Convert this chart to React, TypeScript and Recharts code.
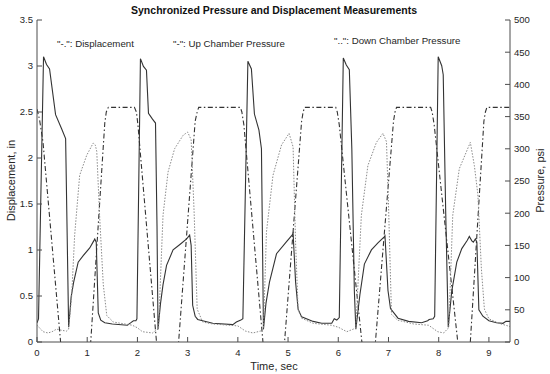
import React from "react";
import { LineChart, Line, XAxis, YAxis } from "recharts";

// time axis ticks and y ticks
const timeTicks = [0, 1, 2, 3, 4, 5, 6, 7, 8, 9];
const dispTicks = [0, 0.5, 1, 1.5, 2, 2.5, 3, 3.5];
const psiTicks = [0, 50, 100, 150, 200, 250, 300, 350, 400, 450, 500];

// displacement, in (left axis) - "-." line
const dispTime = [0, 0.05, 0.12, 0.47, 0.77, 1.07, 1.35, 1.38, 1.42, 1.94, 1.98, 2.01, 2.38, 2.6, 2.82, 3.15, 3.19, 3.22, 4.05, 4.08, 4.12, 4.5, 4.72, 4.93, 5.27, 5.3, 5.33, 5.95, 5.98, 6.02, 6.47, 6.6, 6.74, 7.1, 7.13, 7.16, 7.84, 7.87, 7.91, 8.38, 8.5, 8.63, 8.9, 8.93, 8.96, 9.42];
const dispIn = [2.53, 2.42, 2.17, 0, -0.4, 0, 2.38, 2.5, 2.55, 2.55, 2.5, 2.36, 0, -0.3, 0, 2.4, 2.5, 2.55, 2.55, 2.5, 2.36, 0, -0.3, 0, 2.4, 2.5, 2.55, 2.55, 2.5, 2.36, 0, -0.2, 0, 2.4, 2.5, 2.55, 2.55, 2.5, 2.36, 0, -0.2, 0, 2.4, 2.5, 2.55, 2.55];

// up chamber pressure, psi - "-" line
const upTime = [0, 0.03, 0.13, 0.19, 0.25, 0.37, 0.49, 0.57, 0.63, 0.68, 0.73, 0.82, 0.92, 1.05, 1.13, 1.15, 1.18, 1.22, 1.27, 1.35, 1.5, 1.8, 1.87, 1.92, 1.97, 1.99,
  2.06, 2.12, 2.18, 2.22, 2.3, 2.36, 2.39, 2.41, 2.46, 2.51, 2.58, 2.71, 2.84, 2.98, 3.04, 3.07, 3.1, 3.15, 3.2, 3.5, 3.9, 3.97, 4.06, 4.1,
  4.2, 4.27, 4.33, 4.42, 4.47, 4.51, 4.56, 4.63, 4.77, 4.97, 5.08, 5.1, 5.15, 5.2, 5.27, 5.5, 5.67, 5.87, 5.92, 5.97, 6.02,
  6.1, 6.16, 6.22, 6.27, 6.32, 6.35, 6.43, 6.52, 6.66, 6.79, 6.91, 6.93, 6.99, 7.04, 7.19, 7.4, 7.66, 7.78, 7.81, 7.89, 7.92,
  7.99, 8.06, 8.09, 8.14, 8.19, 8.26, 8.36, 8.46, 8.57, 8.61, 8.66, 8.69, 8.73, 8.76, 8.8, 8.88, 9.0, 9.15, 9.28, 9.34, 9.42];
const upPsi = [30, 36, 443, 431, 424, 353, 331, 316, 23, 70, 93, 124, 134, 146, 157, 160, 155, 45, 34, 30, 28, 26, 30, 33, 33, 36,
  440, 428, 422, 355, 346, 340, 180, 20, 60, 89, 119, 143, 151, 160, 166, 150, 57, 40, 35, 29, 27, 31, 34, 36,
  436, 424, 354, 329, 300, 20, 60, 93, 137, 156, 166, 169, 93, 51, 39, 32, 29, 29, 36, 34, 38,
  441, 430, 423, 300, 80, 20, 73, 121, 143, 154, 163, 165, 80, 52, 37, 32, 30, 33, 35, 36, 40,
  443, 429, 415, 200, 23, 79, 124, 145, 158, 164, 157, 155, 160, 155, 50, 40, 33, 30, 29, 32, 32];

// down chamber pressure, psi - ":" line
const downTime = [0, 0.05, 0.12, 0.22, 0.3, 0.39, 0.5, 0.59, 0.63, 0.69, 0.75, 0.85, 0.99, 1.12, 1.16, 1.19, 1.25, 1.32, 1.39, 1.52, 1.9, 2.0, 2.1, 2.3, 2.38,
  2.42, 2.46, 2.51, 2.61, 2.74, 2.91, 3.0, 3.07, 3.13, 3.17, 3.19, 3.3, 3.5, 4.0, 4.15, 4.3, 4.45,
  4.51, 4.57, 4.7, 4.87, 5.02, 5.1, 5.15, 5.2, 5.27, 5.5, 5.87, 6.0, 6.17, 6.3,
  6.35, 6.46, 6.59, 6.76, 6.89, 6.96, 7.0, 7.06, 7.18, 7.5, 7.8, 7.98, 8.1, 8.17,
  8.2, 8.28, 8.41, 8.63, 8.71, 8.78, 8.85, 8.91, 9.0, 9.2, 9.42];
const downPsi = [26, 22, 16, 14, 16, 20, 18, 17, 20, 71, 166, 259, 290, 309, 306, 296, 191, 89, 41, 31, 26, 22, 16, 14, 19,
  20, 100, 197, 264, 300, 321, 326, 314, 200, 100, 51, 31, 28, 25, 17, 14, 17,
  20, 171, 259, 306, 324, 303, 154, 50, 37, 29, 26, 23, 16, 20,
  22, 197, 274, 310, 324, 311, 214, 43, 34, 28, 26, 16, 14, 20,
  22, 197, 269, 310, 274, 229, 114, 51, 36, 29, 24];

const dispData = dispTime.map((t, i) => ({ t, v: dispIn[i] }));
const upData = upTime.map((t, i) => ({ t, v: upPsi[i] }));
const downData = downTime.map((t, i) => ({ t, v: downPsi[i] }));

const FONT = '"Liberation Sans", Arial, Helvetica, sans-serif';
const AXIS = "#4d4d4d";
const TXT = "#262626";
const tickStyle = { fontSize: 9.5, fill: TXT, fontFamily: FONT };

export default function App() {
  return (
    <div style={{ position: "absolute", left: 0, top: 0, width: 550, height: 374, background: "#fff" }}>
      <LineChart width={550} height={374} margin={{ top: 20, right: 0, bottom: 0, left: 0 }}>
        <XAxis xAxisId="b" dataKey="t" type="number" domain={[0, 9.42]} ticks={timeTicks} allowDataOverflow
          height={32} tickSize={-5} tickMargin={12} stroke={AXIS} tick={tickStyle} />
        <XAxis xAxisId="top" dataKey="t" orientation="top" type="number" domain={[0, 9.42]} ticks={timeTicks}
          allowDataOverflow height={0} tickSize={-5} tickFormatter={() => ""} stroke={AXIS} />
        <YAxis yAxisId="left" type="number" domain={[0, 3.5]} ticks={dispTicks} allowDataOverflow
          width={37} tickSize={-5} tickMargin={9} stroke={AXIS} tick={tickStyle} />
        <YAxis yAxisId="right" orientation="right" type="number" domain={[0, 500]} ticks={psiTicks}
          allowDataOverflow width={40} tickSize={-5} tickMargin={9} stroke={AXIS} tick={tickStyle} />
        <Line data={dispData} xAxisId="b" yAxisId="left" dataKey="v" type="linear" dot={false}
          stroke="#333" strokeWidth={1.1} strokeDasharray="5 2.5 1.5 2.5" isAnimationActive={false} />
        <Line data={upData} xAxisId="b" yAxisId="right" dataKey="v" type="linear" dot={false}
          stroke="#333" strokeWidth={1.1} isAnimationActive={false} />
        <Line data={downData} xAxisId="b" yAxisId="right" dataKey="v" type="linear" dot={false}
          stroke="#8a8a8a" strokeWidth={1} strokeDasharray="1.5 1.5" isAnimationActive={false} />
      </LineChart>
      <svg width={550} height={374} style={{ position: "absolute", left: 0, top: 0, pointerEvents: "none" }}
        fontFamily={FONT} fill={TXT}>
        <text x={274} y={13.5} textAnchor="middle" fontSize={10.5} fontWeight="bold" fill="#111">
          Synchronized Pressure and Displacement Measurements
        </text>
        <text x={57} y={47} fontSize={9.7}>"-.": Displacement</text>
        <text x={173} y={47} fontSize={9.7}>"-": Up Chamber Pressure</text>
        <text x={334} y={44} fontSize={9.7}>"..": Down Chamber Pressure</text>
        <text x={274} y={369.5} textAnchor="middle" fontSize={11}>Time, sec</text>
        <text x={15} y={180.6} textAnchor="middle" fontSize={11} transform="rotate(-90 15 180.6)">
          Displacement, in
        </text>
        <text x={544.3} y={180.6} textAnchor="middle" fontSize={11} transform="rotate(-90 544.3 180.6)">
          Pressure, psi
        </text>
      </svg>
    </div>
  );
}
